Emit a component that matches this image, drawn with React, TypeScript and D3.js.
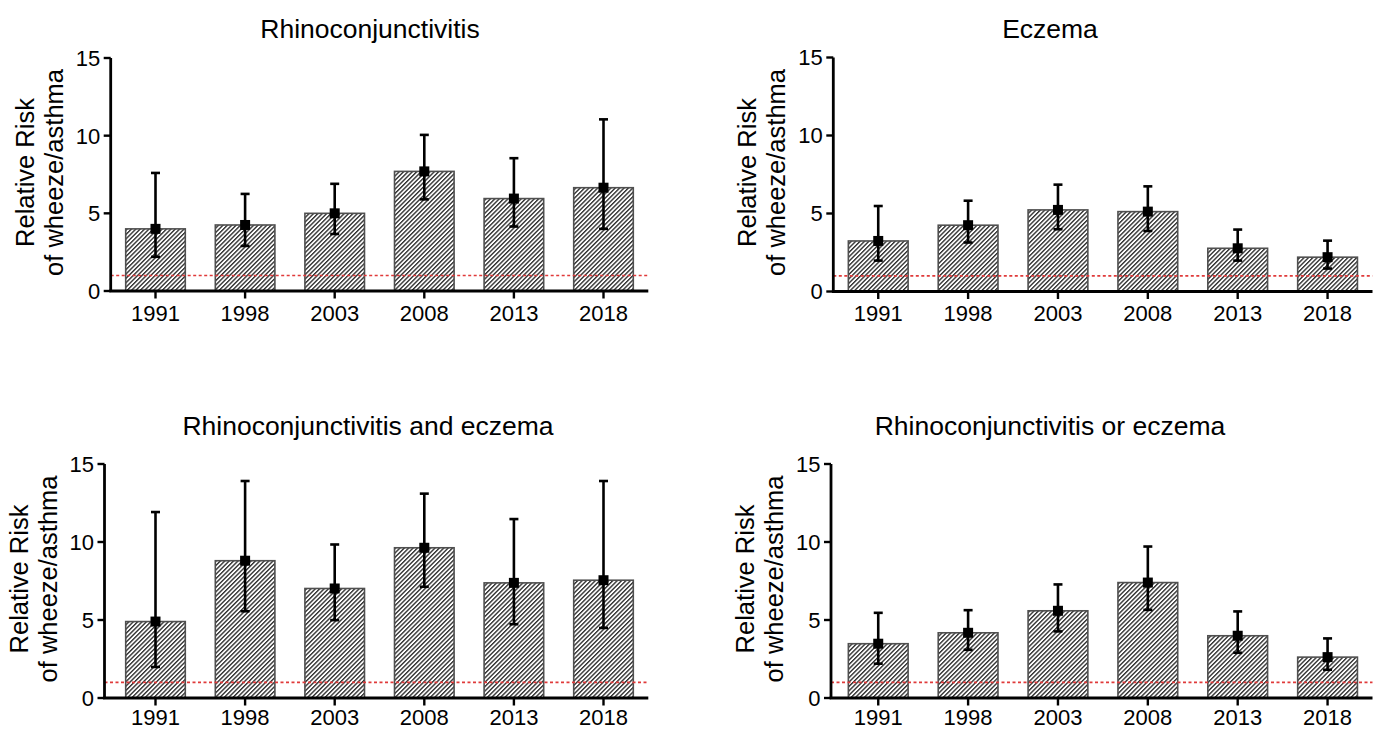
import React from 'react';
import * as d3 from 'd3';

const years = ['1991', '1998', '2003', '2008', '2013', '2018'];
const yTicks = [0, 5, 10, 15];
const referenceRR = 1;

const rhinoRR = [4.0, 4.25, 5.0, 7.7, 5.95, 6.65];
const rhinoLow = [2.2, 2.9, 3.67, 5.9, 4.15, 4.0];
const rhinoHigh = [7.6, 6.25, 6.9, 10.05, 8.55, 11.05];

const eczemaRR = [3.24, 4.25, 5.23, 5.12, 2.77, 2.2];
const eczemaLow = [1.98, 3.14, 3.99, 3.88, 1.98, 1.47];
const eczemaHigh = [5.48, 5.82, 6.85, 6.74, 3.97, 3.26];

const andRR = [4.9, 8.8, 7.02, 9.63, 7.38, 7.55];
const andLow = [1.99, 5.56, 4.99, 7.13, 4.73, 4.49];
const andHigh = [11.92, 13.91, 9.84, 13.1, 11.47, 13.91];

const orRR = [3.48, 4.18, 5.59, 7.4, 3.99, 2.62];
const orLow = [2.2, 3.09, 4.27, 5.65, 2.9, 1.81];
const orHigh = [5.46, 5.63, 7.28, 9.71, 5.55, 3.82];

const titles = [
  'Rhinoconjunctivitis',
  'Eczema',
  'Rhinoconjunctivitis and eczema',
  'Rhinoconjunctivitis or eczema',
];

const panels = [
  { title: titles[0], rr: rhinoRR, low: rhinoLow, high: rhinoHigh, axisX: 110.7, x0: 110.7, x1: 648.3, y0: 291, y1: 58, tx: 370, ty: 37.5, lab: 29.5 },
  { title: titles[1], rr: eczemaRR, low: eczemaLow, high: eczemaHigh, axisX: 833.3, x0: 833.3, x1: 1372.5, y0: 291.5, y1: 57.5, tx: 1050, ty: 37.5, lab: 29.5 },
  { title: titles[2], rr: andRR, low: andLow, high: andHigh, axisX: 104.5, x0: 110.7, x1: 648.3, y0: 698, y1: 464, tx: 368, ty: 435, lab: 26.5 },
  { title: titles[3], rr: orRR, low: orLow, high: orHigh, axisX: 831, x0: 833.3, x1: 1372.5, y0: 698, y1: 464, tx: 1050, ty: 435, lab: 26.5 },
];

const FONT = "'Liberation Sans', Arial, Helvetica, sans-serif";

function Panel({ p }: { p: any }) {
  const x = d3.scaleBand<string>().domain(years).range([p.x0, p.x1]).paddingInner(0.335).paddingOuter(0.1675);
  const y = d3.scaleLinear().domain([0, 15]).range([p.y0, p.y1]);
  const bw = x.bandwidth();
  const cap = 4.5;
  const sq = 10;
  const midY = (p.y0 + p.y1) / 2 - 2;
  return (
    <g>
      <text x={p.tx} y={p.ty} textAnchor="middle" fontSize={26.5} fontFamily={FONT} fill="#000">{p.title}</text>
      <g transform={`translate(${p.axisX - 77},${midY}) rotate(-90)`}>
        <text x={0} y={0} textAnchor="middle" fontSize={25.5} fontFamily={FONT} fill="#000">Relative Risk</text>
        <text x={0} y={29} textAnchor="middle" fontSize={25.5} fontFamily={FONT} fill="#000">of wheeze/asthma</text>
      </g>
      {years.map((yr, i) => (
        <rect key={yr} x={x(yr)} y={y(p.rr[i])} width={bw} height={y(0) - y(p.rr[i])}
          fill="url(#hatch)" stroke="#505050" strokeWidth={1.6} />
      ))}
      <line x1={p.axisX} x2={p.x1} y1={y(referenceRR)} y2={y(referenceRR)} stroke="#e03a3a" strokeWidth={1.6} strokeDasharray="3,2.5" />
      {years.map((yr, i) => {
        const cx = (x(yr) as number) + bw / 2;
        return (
          <g key={yr} stroke="#000" strokeWidth={2.6}>
            <line x1={cx} x2={cx} y1={y(p.low[i])} y2={y(p.high[i])} />
            <line x1={cx - cap} x2={cx + cap} y1={y(p.low[i])} y2={y(p.low[i])} />
            <line x1={cx - cap} x2={cx + cap} y1={y(p.high[i])} y2={y(p.high[i])} />
            <rect x={cx - sq / 2} y={y(p.rr[i]) - sq / 2} width={sq} height={sq} fill="#000" stroke="none" />
          </g>
        );
      })}
      <line x1={p.axisX} x2={p.axisX} y1={y(0)} y2={y(15)} stroke="#000" strokeWidth={2.8} />
      <line x1={p.axisX - 1.4} x2={p.x1} y1={y(0)} y2={y(0)} stroke="#000" strokeWidth={2.8} />
      {yTicks.map((t) => (
        <g key={t}>
          <line x1={p.axisX - 7} x2={p.axisX} y1={y(t)} y2={y(t)} stroke="#000" strokeWidth={2.4} />
          <text x={p.axisX - 10.5} y={y(t)} dy="0.36em" textAnchor="end" fontSize={22} fontFamily={FONT} fill="#000">{t}</text>
        </g>
      ))}
      {years.map((yr) => {
        const cx = (x(yr) as number) + bw / 2;
        return (
          <g key={yr}>
            <line x1={cx} x2={cx} y1={y(0)} y2={y(0) + 7.5} stroke="#000" strokeWidth={2.4} />
            <text x={cx} y={y(0) + p.lab} textAnchor="middle" fontSize={22} fontFamily={FONT} fill="#000">{yr}</text>
          </g>
        );
      })}
    </g>
  );
}

export default function App() {
  return (
    <svg width={1373} height={730} style={{ position: 'absolute', left: 0, top: 0, background: '#fff' }}>
      <defs>
        <pattern id="hatch" patternUnits="userSpaceOnUse" width={3.1} height={10} patternTransform="rotate(45)">
          <rect width={3.1} height={10} fill="#fff" />
          <line x1={0.7} x2={0.7} y1={0} y2={10} stroke="#111" strokeWidth={1.2} />
        </pattern>
      </defs>
      {panels.map((p, i) => <Panel key={i} p={p} />)}
    </svg>
  );
}
